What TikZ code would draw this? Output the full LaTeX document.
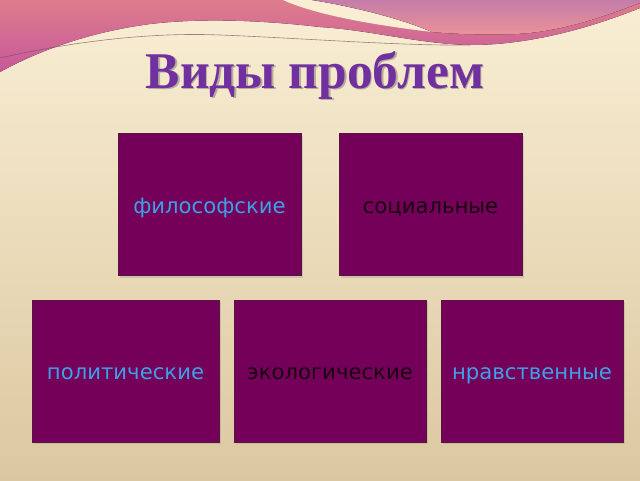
\documentclass[tikz,border=0pt]{standalone}
\usepackage{fontspec}
\setmainfont{DejaVu Sans}
\newfontfamily\titlefont{Liberation Serif}
\usetikzlibrary{shadows}
\definecolor{boxfill}{RGB}{116,0,90}
\definecolor{boxline}{RGB}{85,20,65}
\definecolor{skytext}{RGB}{62,160,232}
\definecolor{darktext}{RGB}{25,0,15}
\definecolor{titlepurple}{RGB}{112,48,160}
\definecolor{creamtop}{RGB}{249,238,212}
\definecolor{creambottom}{RGB}{220,200,160}
\tikzstyle{cell} = [rectangle, minimum height=142pt, text centered, text height=17.5pt, text depth=0pt, draw=boxline, line width=0.8pt, fill=boxfill, font=\fontsize{21.2}{25}\selectfont, drop shadow={opacity=0.25, shadow xshift=2pt, shadow yshift=-2pt}]
\tikzstyle{bluelabel} = [text=skytext]
\tikzstyle{darklabel} = [text=darktext]

\begin{document}
\begin{tikzpicture}[x=1pt, y=-1pt]
    \useasboundingbox (0,0) rectangle (640,480);
    \fill [top color=creamtop, bottom color=creambottom] (0,0) rectangle (640,480);
    \fill [top color={rgb,255:red,222;green,125;blue,140}, bottom color={rgb,255:red,198;green,88;blue,155}]
      (0,0) -- (640,0) -- (640,8) .. controls (590,28) and (530,45) .. (470,45)
      .. controls (420,44) and (370,30) .. (320,27) .. controls (260,20) and (200,18) .. (150,24)
      .. controls (90,32) and (40,50) .. (0,72) -- cycle;
    \fill [creamtop] (283,0) -- (312,0) .. controls (350,6) and (400,18) .. (432,32)
      .. controls (390,27) and (320,17) .. (283,0) -- cycle;
    \fill [top color={rgb,255:red,196;green,125;blue,168}, bottom color={rgb,255:red,236;green,146;blue,150}]
      (312,0) -- (640,0) -- (640,3) .. controls (600,18) and (560,32) .. (515,34)
      .. controls (480,35) and (455,34) .. (432,32) .. controls (400,18) and (350,6) .. (312,0) -- cycle;
    \draw [line width=0.6pt, color={rgb,255:red,120;green,80;blue,100}, opacity=0.7]
      (0,58) .. controls (70,42) and (150,32) .. (220,35) .. controls (300,38) and (400,46) .. (470,45);

    \node (titleshade) [anchor=base, text=black, opacity=0.25, font=\titlefont\bfseries\fontsize{51.5}{60}\selectfont] at (316.5,89.5) {Виды проблем};
    \node (title) [anchor=base, text=titlepurple, font=\titlefont\bfseries\fontsize{51.5}{60}\selectfont] at (315,88) {Виды проблем};

    \node (philos) [cell, bluelabel, minimum width=183pt] at (209.5,204.5) {философские};
    \node (social) [cell, darklabel, minimum width=183pt] at (430.5,204.5) {социальные};
    \node (polit)  [cell, bluelabel, minimum width=187pt] at (125.5,371) {политические};
    \node (ecol)   [cell, darklabel, minimum width=192pt] at (330,371) {экологические};
    \node (moral)  [cell, bluelabel, minimum width=182pt] at (532,371) {нравственные};
\end{tikzpicture}
\end{document}
